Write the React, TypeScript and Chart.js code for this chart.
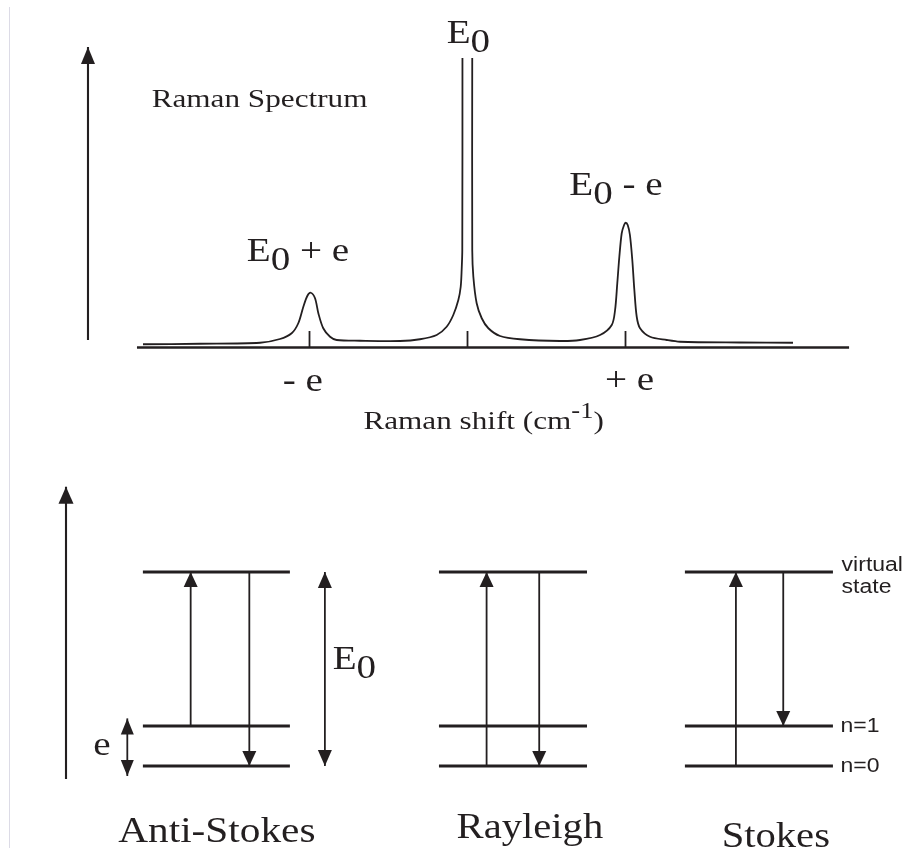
import React, { useEffect, useRef } from 'react';
import { Chart, registerables } from 'chart.js';

Chart.register(...registerables);

const INK = '#231f20';
const SERIF = '"Liberation Serif", "Times New Roman", serif';
const SANS = '"Liberation Sans", Arial, sans-serif';

// ---------- Top panel: Raman spectrum (x: Raman shift in units of e, y: intensity, Stokes peak = 100)
const SHIFT_LEFT = [-2.054, -1.693, -1.313, -1.187, -1.113, -1.071, -1.039, -1.014, -0.992, -0.965, -0.944, -0.913, -0.870, -0.828, -0.680, -0.427, -0.301, -0.195, -0.132, -0.090, -0.058, -0.043, -0.037, -0.033, -0.032];
const INTENSITY_LEFT = [2.6, 3.0, 3.8, 6.8, 11.4, 19.4, 32.6, 41.2, 43.8, 39.4, 27.4, 15.4, 8.6, 6.0, 5.4, 5.2, 6.6, 10.0, 16.6, 26.0, 38.0, 48.6, 62.0, 78.0, 231.6];
const SHIFT_RIGHT = [0.030, 0.030, 0.037, 0.058, 0.090, 0.132, 0.206, 0.332, 0.585, 0.712, 0.839, 0.913, 0.934, 0.948, 0.961, 0.976, 0.991, 1.001, 1.014, 1.028, 1.043, 1.056, 1.071, 1.092, 1.155, 1.261, 1.345, 1.725, 2.060];
const INTENSITY_RIGHT = [231.6, 78.0, 56.6, 35.4, 23.4, 15.4, 9.2, 6.6, 5.2, 6.0, 10.0, 18.0, 30.0, 51.4, 72.6, 91.4, 98.0, 99.8, 98.0, 90.0, 70.0, 46.0, 24.6, 15.4, 8.6, 6.0, 4.6, 4.0, 3.8];
const SHIFT_AXIS_RANGE = [-2.092, 2.415];
const TICK_SHIFTS = [-1, 0, 1];
const TICK_LABELS = ['- e', '', '+ e'];
const TICK_HEIGHT = 13.2;
const INTENSITY_ARROW_X = -2.402;
const INTENSITY_ARROW_RANGE = [6, 240.4];

// ---------- Bottom panel: energy-level diagram (y: energy in units of e)
const COLUMNS = ['Anti-Stokes', 'Rayleigh', 'Stokes'];
const COL_START = [-0.014, 2.0, 3.673];
const COL_END = [0.986, 3.007, 4.68];
const LEVEL_NAMES = ['n=0', 'n=1', 'virtual state'];
const LEVEL_ENERGY = [0, 1, 4.85];
const UP_X = [0.311, 2.324, 4.02];
const UP_FROM = [1, 0, 0];
const DOWN_X = [0.71, 2.682, 4.342];
const DOWN_TO = [0, 0, 1];
const E0_ARROW_X = 1.224;
const SMALL_E_ARROW_X = -0.12;
const SMALL_E_ARROW_RANGE = [-0.25, 1.19];
const ENERGY_AXIS_X = -0.537;
const ENERGY_AXIS_RANGE = [-0.325, 6.98];

type Run = { t: string; dy?: number; scale?: number };
type Label = { x: number; y: number; size: number; family: string; sx: number; runs: Run[] };

const textPlugin = {
  id: 'diagramText',
  afterDatasetsDraw(chart: any, _args: any, opts: any) {
    const { ctx, scales } = chart;
    const labels: Label[] = opts.labels || [];
    for (const lab of labels) {
      const px = scales.x.getPixelForValue(lab.x);
      const py = scales.y.getPixelForValue(lab.y);
      ctx.save();
      ctx.fillStyle = INK;
      ctx.textAlign = 'left';
      ctx.textBaseline = 'alphabetic';
      ctx.translate(px, py);
      ctx.scale(lab.sx, 1);
      let cx = 0;
      for (const r of lab.runs) {
        const size = lab.size * (r.scale ?? 1);
        ctx.font = `${size}px ${lab.family}`;
        ctx.fillText(r.t, cx, r.dy ?? 0);
        cx += ctx.measureText(r.t).width;
      }
      ctx.restore();
    }
  },
};

const arrowPlugin = {
  id: 'arrowHeads',
  afterDatasetsDraw(chart: any) {
    const { ctx } = chart;
    chart.data.datasets.forEach((ds: any, i: number) => {
      if (!ds.heads) return;
      const pts = chart.getDatasetMeta(i).data;
      const n = pts.length;
      const draw = (tip: any, from: any) => {
        const ang = Math.atan2(tip.y - from.y, tip.x - from.x);
        const L = ds.headLength;
        const W = ds.headWidth / 2;
        ctx.save();
        ctx.fillStyle = INK;
        ctx.translate(tip.x, tip.y);
        ctx.rotate(ang);
        ctx.beginPath();
        ctx.moveTo(0, 0);
        ctx.lineTo(-L, W);
        ctx.lineTo(-L, -W);
        ctx.closePath();
        ctx.fill();
        ctx.restore();
      };
      if (ds.heads === 'end' || ds.heads === 'both') draw(pts[n - 1], pts[n - 2]);
      if (ds.heads === 'start' || ds.heads === 'both') draw(pts[0], pts[1]);
    });
  },
};

const xy = (xs: number[], ys: number[]) => xs.map((x, i) => ({ x, y: ys[i] }));
const seg = (data: any[], width: number, extra: any = {}) => ({
  data,
  borderColor: INK,
  backgroundColor: INK,
  borderWidth: width,
  showLine: true,
  pointRadius: 0,
  pointHoverRadius: 0,
  fill: false,
  tension: 0,
  borderCapStyle: 'butt',
  ...extra,
});

const E0 = (extra: Run[] = []): Run[] => [{ t: 'E' }, { t: '0', dy: 9 }, ...extra];

function buildTop(canvas: HTMLCanvasElement) {
  const datasets: any[] = [
    seg(xy(SHIFT_LEFT, INTENSITY_LEFT), 1.8, { tension: 0.3 }),
    seg(xy(SHIFT_RIGHT, INTENSITY_RIGHT), 1.8, { tension: 0.3 }),
    seg([{ x: SHIFT_AXIS_RANGE[0], y: 0 }, { x: SHIFT_AXIS_RANGE[1], y: 0 }], 2.3),
    ...TICK_SHIFTS.map((t) => seg([{ x: t, y: 0 }, { x: t, y: TICK_HEIGHT }], 1.8)),
    seg(
      [{ x: INTENSITY_ARROW_X, y: INTENSITY_ARROW_RANGE[0] }, { x: INTENSITY_ARROW_X, y: INTENSITY_ARROW_RANGE[1] }],
      2.1,
      { heads: 'end', headLength: 17, headWidth: 14 }
    ),
  ];
  const labels: Label[] = [
    { x: -0.132, y: 243.8, size: 34, family: SERIF, sx: 1.15, runs: E0() },
    { x: -1.397, y: 69.2, size: 34, family: SERIF, sx: 1.15, runs: E0([{ t: ' + e' }]) },
    { x: 0.644, y: 122, size: 34, family: SERIF, sx: 1.15, runs: E0([{ t: ' - e' }]) },
    { x: -1.999, y: 192.2, size: 26, family: SERIF, sx: 1.2, runs: [{ t: 'Raman Spectrum' }] },
    { x: -1.17, y: -34.6, size: 34, family: SERIF, sx: 1.15, runs: [{ t: TICK_LABELS[0] }] },
    { x: 0.87, y: -34, size: 34, family: SERIF, sx: 1.15, runs: [{ t: TICK_LABELS[2] }] },
    {
      x: -0.659,
      y: -65.2,
      size: 26,
      family: SERIF,
      sx: 1.2,
      runs: [{ t: 'Raman shift (cm' }, { t: '-1', dy: -11, scale: 0.85 }, { t: ')' }],
    },
  ];
  return new Chart(canvas, {
    type: 'scatter',
    data: { datasets },
    options: {
      responsive: false,
      animation: false,
      events: [],
      layout: { padding: 0 },
      plugins: { legend: { display: false }, tooltip: { enabled: false }, diagramText: { labels } } as any,
      scales: {
        x: { type: 'linear', display: false, min: -2.9589, max: 2.7753 },
        y: { type: 'linear', display: false, min: -78, max: 278 },
      },
    },
    plugins: [textPlugin, arrowPlugin],
  } as any);
}

function buildBottom(canvas: HTMLCanvasElement) {
  const V = LEVEL_ENERGY[2];
  const datasets: any[] = [];
  COLUMNS.forEach((_c, ci) => {
    LEVEL_ENERGY.forEach((en) => {
      datasets.push(seg([{ x: COL_START[ci], y: en }, { x: COL_END[ci], y: en }], 2.8));
    });
    datasets.push(
      seg([{ x: UP_X[ci], y: UP_FROM[ci] }, { x: UP_X[ci], y: V }], 1.8, { heads: 'end', headLength: 15, headWidth: 14 })
    );
    datasets.push(
      seg([{ x: DOWN_X[ci], y: V }, { x: DOWN_X[ci], y: DOWN_TO[ci] }], 1.8, { heads: 'end', headLength: 15, headWidth: 14 })
    );
  });
  datasets.push(
    seg([{ x: E0_ARROW_X, y: LEVEL_ENERGY[0] }, { x: E0_ARROW_X, y: V }], 1.8, { heads: 'both', headLength: 16, headWidth: 14 })
  );
  datasets.push(
    seg(
      [{ x: SMALL_E_ARROW_X, y: SMALL_E_ARROW_RANGE[0] }, { x: SMALL_E_ARROW_X, y: SMALL_E_ARROW_RANGE[1] }],
      1.8,
      { heads: 'both', headLength: 16, headWidth: 13 }
    )
  );
  datasets.push(
    seg(
      [{ x: ENERGY_AXIS_X, y: ENERGY_AXIS_RANGE[0] }, { x: ENERGY_AXIS_X, y: ENERGY_AXIS_RANGE[1] }],
      2.1,
      { heads: 'end', headLength: 17, headWidth: 15 }
    )
  );
  const labels: Label[] = [
    { x: 1.277, y: 2.425, size: 34, family: SERIF, sx: 1.15, runs: E0() },
    { x: -0.352, y: 0.275, size: 34, family: SERIF, sx: 1.15, runs: [{ t: 'e' }] },
    { x: 4.739, y: 4.88, size: 20, family: SANS, sx: 1.15, runs: [{ t: LEVEL_NAMES[2].split(' ')[0] }] },
    { x: 4.739, y: 4.32, size: 20, family: SANS, sx: 1.15, runs: [{ t: LEVEL_NAMES[2].split(' ')[1] }] },
    { x: 4.732, y: 0.86, size: 20, family: SANS, sx: 1.15, runs: [{ t: LEVEL_NAMES[1] }] },
    { x: 4.732, y: -0.14, size: 20, family: SANS, sx: 1.15, runs: [{ t: LEVEL_NAMES[0] }] },
    { x: -0.182, y: -1.89, size: 35, family: SERIF, sx: 1.18, runs: [{ t: COLUMNS[0] }] },
    { x: 2.12, y: -1.81, size: 35, family: SERIF, sx: 1.16, runs: [{ t: COLUMNS[1] }] },
    { x: 3.923, y: -2.02, size: 35, family: SERIF, sx: 1.16, runs: [{ t: COLUMNS[2] }] },
  ];
  return new Chart(canvas, {
    type: 'scatter',
    data: { datasets },
    options: {
      responsive: false,
      animation: false,
      events: [],
      layout: { padding: 0 },
      plugins: { legend: { display: false }, tooltip: { enabled: false }, diagramText: { labels } } as any,
      scales: {
        x: { type: 'linear', display: false, min: -0.986, max: 5.177 },
        y: { type: 'linear', display: false, min: -2.05, max: 8.025 },
      },
    },
    plugins: [textPlugin, arrowPlugin],
  } as any);
}

export default function App() {
  const topRef = useRef<HTMLCanvasElement>(null);
  const botRef = useRef<HTMLCanvasElement>(null);
  useEffect(() => {
    const a = buildTop(topRef.current!);
    const b = buildBottom(botRef.current!);
    return () => {
      a.destroy();
      b.destroy();
    };
  }, []);
  return (
    <div style={{ position: 'absolute', left: 0, top: 0, width: 906, height: 848, background: '#fff', overflow: 'hidden' }}>
      <div style={{ position: 'absolute', left: 9, top: 7, width: 1, height: 841, background: '#dcdbe6' }} />
      <canvas ref={topRef} width={906} height={445} style={{ position: 'absolute', left: 0, top: 0, display: 'block' }} />
      <canvas ref={botRef} width={906} height={403} style={{ position: 'absolute', left: 0, top: 445, display: 'block' }} />
    </div>
  );
}
